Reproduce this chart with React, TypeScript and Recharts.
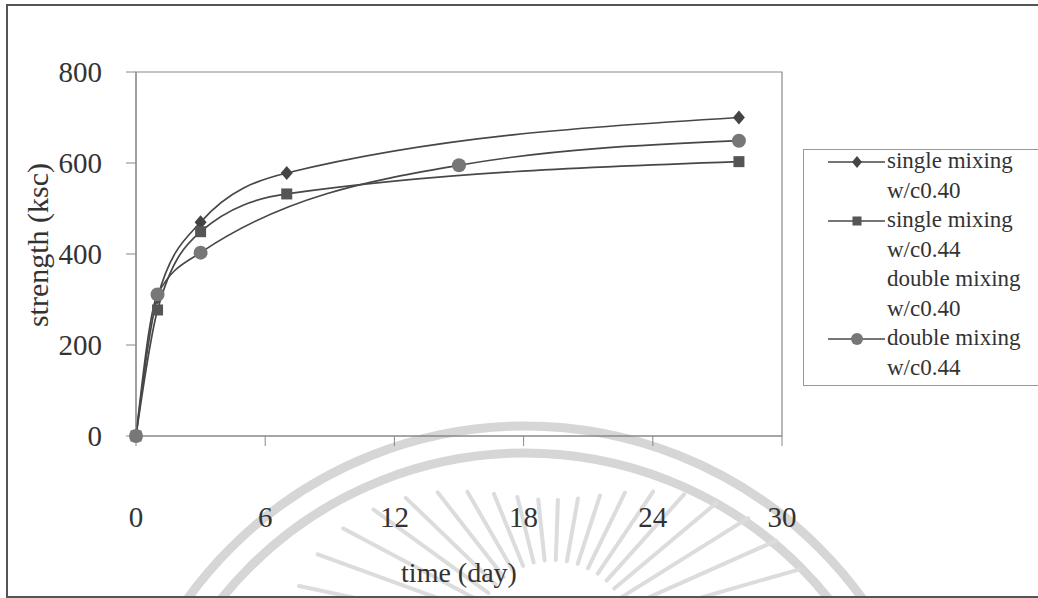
import React from 'react';
import { LineChart, Line, XAxis, YAxis, ReferenceArea } from 'recharts';

// ---- data ----
const daysSingle = [0, 1, 3, 7, 28];
const singleW040 = [0, 305, 470, 578, 700];
const singleW044 = [0, 277, 449, 532, 603];
const daysDouble = [0, 1, 3, 15, 28];
const doubleW044 = [0, 311, 403, 595, 649];

const xTicks = [0, 6, 12, 18, 24, 30];
const yTicks = [0, 200, 400, 600, 800];

const seriesNames = [
  ['single mixing', 'w/c0.40'],
  ['single mixing', 'w/c0.44'],
  ['double mixing', 'w/c0.40'],
  ['double mixing', 'w/c0.44'],
];
const legendMarkers = ['diamond', 'square', 'none', 'circle'];

const toRows = (days: number[], vals: number[]) => days.map((d, i) => ({ day: d, v: vals[i] }));
const s1 = toRows(daysSingle, singleW040);
const s2 = toRows(daysSingle, singleW044);
const s4 = toRows(daysDouble, doubleW044);

const FONT = '"Liberation Serif", "Times New Roman", serif';
const LINE = '#474747';

const DiamondDot = (p: any) => {
  const { cx, cy } = p;
  if (cx == null || cy == null) return null;
  return <path key={`d${cx}`} d={`M${cx},${cy - 7}L${cx + 6},${cy}L${cx},${cy + 7}L${cx - 6},${cy}Z`} fill="#444" />;
};
const SquareDot = (p: any) => {
  const { cx, cy } = p;
  if (cx == null || cy == null) return null;
  return <rect key={`s${cx}`} x={cx - 5.5} y={cy - 5.5} width={11} height={11} fill="#555" />;
};
const CircleDot = (p: any) => {
  const { cx, cy } = p;
  if (cx == null || cy == null) return null;
  return <circle key={`c${cx}`} cx={cx} cy={cy} r={7} fill="#777" />;
};

const LegendBox = () => {
  const lh = 29.5;
  const first = 11;
  let line = 0;
  const items: any[] = [];
  seriesNames.forEach((lines, i) => {
    const yc = first + line * lh;
    const m = legendMarkers[i];
    if (m !== 'none') {
      items.push(<line key={`l${i}`} x1={25} x2={82} y1={yc + 2} y2={yc + 2} stroke={LINE} strokeWidth={1.5} />);
      if (m === 'diamond') items.push(<path key={`m${i}`} d={`M54,${yc - 4}L59,${yc + 2}L54,${yc + 8}L49,${yc + 2}Z`} fill="#444" />);
      if (m === 'square') items.push(<rect key={`m${i}`} x={49.5} y={yc - 2.5} width={9} height={9} fill="#555" />);
      if (m === 'circle') items.push(<circle key={`m${i}`} cx={54} cy={yc + 2} r={6} fill="#777" />);
    }
    lines.forEach((t, j) => {
      items.push(
        <text key={`t${i}-${j}`} x={84} y={first + (line + j) * lh + 8} fontFamily={FONT} fontSize={23} fill="#333">
          {t}
        </text>
      );
    });
    line += lines.length;
  });
  return (
    <svg width={240} height={237} style={{ display: 'block' }}>
      <rect x={0.5} y={0.5} width={245} height={236} fill="#fff" stroke="#999" strokeWidth={1} />
      {items}
    </svg>
  );
};

const rayAngles = [12, 20, 28, 36, 44, 52, 60, 68, 76, 84, 92, 100, 108, 116, 124, 132, 140, 148, 156, 164, 172];

const Watermark = () => {
  const cx = 553;
  const cy = 640;
  return (
    <svg width={1038} height={598} style={{ position: 'absolute', left: 0, top: 0 }}>
      <circle cx={525} cy={842} r={416} fill="none" stroke="#d6d6d6" strokeWidth={9} />
      <circle cx={525} cy={842} r={389} fill="none" stroke="#d6d6d6" strokeWidth={9} />
      {rayAngles.map((a) => {
        const rad = (a * Math.PI) / 180;
        const c = Math.cos(rad);
        const len = 140 + 125 * c * c;
        const x1 = cx - c * 80;
        const y1 = cy - Math.sin(rad) * 80;
        const x2 = cx - c * len;
        const y2 = cy - Math.sin(rad) * len;
        return <line key={a} x1={x1} y1={y1} x2={x2} y2={y2} stroke="#dcdcdc" strokeWidth={4} strokeLinecap="round" />;
      })}
      <rect x={7} y={5} width={1040} height={592} fill="none" stroke="#555" strokeWidth={2} />
    </svg>
  );
};

export default function App() {
  return (
    <div style={{ position: 'absolute', left: 0, top: 0, width: 1038, height: 598, background: '#fff', overflow: 'hidden' }}>
      <Watermark />
      <div style={{ position: 'absolute', left: 0, top: 0 }}>
        <LineChart width={1038} height={598} margin={{ top: 72, right: 256, bottom: 0, left: 10 }}>
          <ReferenceArea x1={0} x2={30} y1={0} y2={800} fill="none" fillOpacity={0} stroke="#8a8a8a" strokeWidth={1.2} ifOverflow="visible" />
          <XAxis
            type="number"
            dataKey="day"
            domain={[0, 30]}
            ticks={xTicks}
            allowDuplicatedCategory={false}
            height={162}
            tickSize={10}
            tickMargin={60}
            stroke="#888"
            tick={{ fill: '#333', fontSize: 29, fontFamily: FONT }}
            label={{
              content: (props: any) => {
                const vb = props.viewBox || {};
                const x = vb.x + vb.width / 2;
                const y = vb.y + 136;
                return (
                  <text x={x} y={y} textAnchor="middle" dominantBaseline="central" fontFamily={FONT} fontSize={28} fill="#333">
                    time (day)
                  </text>
                );
              },
            }}
          />
          <YAxis
            type="number"
            domain={[0, 800]}
            ticks={yTicks}
            width={126}
            tickSize={10}
            tickMargin={24}
            stroke="#888"
            tick={{ fill: '#333', fontSize: 29, fontFamily: FONT }}
            label={{
              content: (props: any) => {
                const vb = props.viewBox || {};
                const x = vb.x + 27;
                const y = vb.y + vb.height / 2 - 9;
                return (
                  <text x={x} y={y} transform={`rotate(-90 ${x} ${y})`} textAnchor="middle" dominantBaseline="central" fontFamily={FONT} fontSize={30} fill="#333">
                    strength (ksc)
                  </text>
                );
              },
            }}
          />
          <Line data={s1} dataKey="v" name="single mixing w/c0.40" type="monotone" stroke={LINE} strokeWidth={1.7} dot={<DiamondDot />} activeDot={false} isAnimationActive={false} />
          <Line data={s2} dataKey="v" name="single mixing w/c0.44" type="monotone" stroke={LINE} strokeWidth={1.7} dot={<SquareDot />} activeDot={false} isAnimationActive={false} />
          <Line data={s4} dataKey="v" name="double mixing w/c0.44" type="monotone" stroke={LINE} strokeWidth={1.7} dot={<CircleDot />} activeDot={false} isAnimationActive={false} />
        </LineChart>
      </div>
      <div style={{ position: 'absolute', left: 803, top: 149 }}>
        <LegendBox />
      </div>
    </div>
  );
}
